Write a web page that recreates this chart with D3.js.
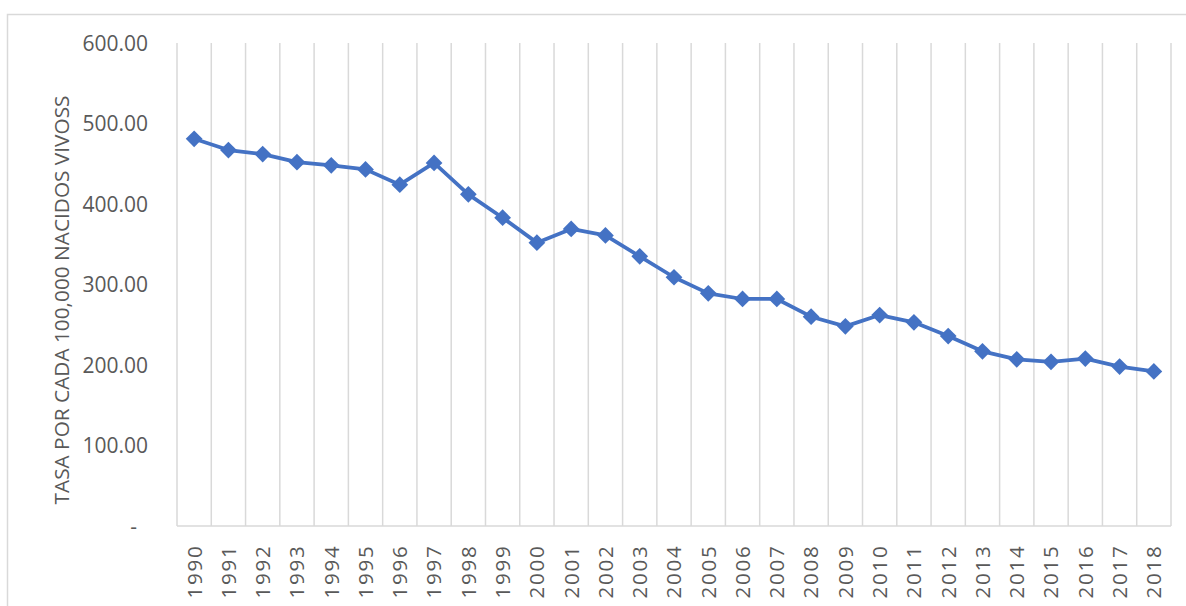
<!DOCTYPE html>
<html>
<head>
<meta charset="utf-8">
<script src="https://cdn.jsdelivr.net/npm/d3@7"></script>
<style>
  html, body { margin: 0; padding: 0; background: #fff; }
  svg { display: block; }
  svg text { font-family: "Open Sans", "Noto Sans", sans-serif; }
</style>
</head>
<body>
<svg id="chart" width="1186" height="606"></svg>
<script>
const years = ["1990","1991","1992","1993","1994","1995","1996","1997","1998","1999",
  "2000","2001","2002","2003","2004","2005","2006","2007","2008","2009",
  "2010","2011","2012","2013","2014","2015","2016","2017","2018"];
const rates = [481, 467, 462, 452, 448, 443, 424, 451, 412, 383,
  352, 369, 361, 335, 309, 289, 282, 282, 260, 248,
  262, 253, 236, 217, 207, 204, 208, 198, 192];
const yTicks = [0, 100, 200, 300, 400, 500, 600];
const yTitle = "TASA POR CADA 100,000 NACIDOS VIVOSS";

const svg = d3.select("#chart");
const plot = { left: 177, right: 1171, top: 43, bottom: 526 };
const textColor = "#595959";
const gridColor = "#d9d9d9";
const lineColor = "#4472C4";
const font = "'Open Sans', 'Noto Sans', sans-serif";

// chart border
svg.append("rect")
  .attr("x", 7.5).attr("y", 14.5)
  .attr("width", 1200).attr("height", 700)
  .attr("fill", "#fff")
  .attr("stroke", gridColor).attr("stroke-width", 1.5);

const x = d3.scaleBand().domain(years).range([plot.left, plot.right]).padding(0);
const y = d3.scaleLinear().domain([0, 600]).range([plot.bottom, plot.top]);

// vertical gridlines at category boundaries
const bounds = years.map(d => x(d)).concat([x(years[years.length - 1]) + x.bandwidth()]);
svg.append("g").selectAll("line").data(bounds).join("line")
  .attr("x1", d => d).attr("x2", d => d)
  .attr("y1", plot.top).attr("y2", plot.bottom)
  .attr("stroke", gridColor).attr("stroke-width", 1.5);

// baseline
svg.append("line")
  .attr("x1", plot.left).attr("x2", plot.right)
  .attr("y1", plot.bottom).attr("y2", plot.bottom)
  .attr("stroke", gridColor).attr("stroke-width", 1.5);

// y axis labels
const yAxis = d3.axisLeft(y).tickValues(yTicks).tickSize(0).tickPadding(0)
  .tickFormat(d => d === 0 ? "-" : d3.format(".2f")(d));
const gy = svg.append("g").attr("transform", `translate(148,0)`).call(yAxis);
gy.attr("font-family", font).attr("font-size", 21);
gy.select(".domain").remove();
gy.selectAll("text")
  .attr("fill", textColor)
  .style("font-family", font)
  .style("font-size", "21px")
  .attr("dx", d => d === 0 ? -11 : 0)
  .attr("dy", "0.35em");

// y title
svg.append("text")
  .attr("transform", `translate(69,300) rotate(-90)`)
  .attr("text-anchor", "middle")
  .attr("fill", textColor)
  .style("font-family", font)
  .style("font-size", "20.8px")
  .text(yTitle);

// x axis labels
const xAxis = d3.axisBottom(x).tickSize(0).tickPadding(0);
const gx = svg.append("g").attr("transform", `translate(0,${plot.bottom})`).call(xAxis);
gx.attr("font-family", font).attr("font-size", 20);
gx.select(".domain").remove();
gx.selectAll("text")
  .attr("fill", textColor)
  .style("font-family", font)
  .style("font-size", "20.5px")
  .style("letter-spacing", "1.8px")
  .attr("text-anchor", "end")
  .attr("transform", "translate(0,18.5) rotate(-90)")
  .attr("x", 0).attr("y", 0)
  .attr("dy", "0.36em");

// line
const line = d3.line()
  .x((d, i) => x(years[i]) + x.bandwidth() / 2)
  .y(d => y(d));
svg.append("path")
  .datum(rates)
  .attr("d", line)
  .attr("fill", "none")
  .attr("stroke", lineColor)
  .attr("stroke-width", 3.75)
  .attr("stroke-linejoin", "round");

// diamond markers
const sym = d3.symbol(d3.symbolSquare, 140);
svg.append("g").selectAll("path").data(rates).join("path")
  .attr("d", sym)
  .attr("transform", (d, i) => `translate(${x(years[i]) + x.bandwidth() / 2},${y(d)}) rotate(45)`)
  .attr("fill", lineColor);
</script>
</body>
</html>
